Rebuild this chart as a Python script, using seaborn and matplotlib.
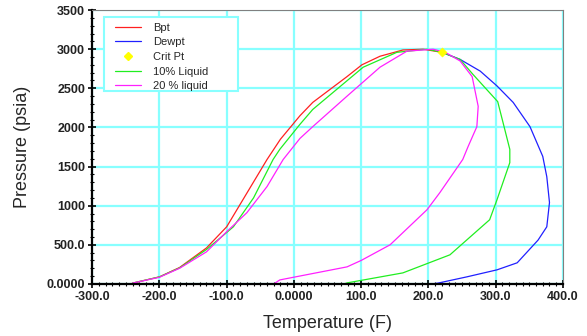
import pandas as pd
import matplotlib.pyplot as plt
import seaborn as sns
from matplotlib.ticker import MultipleLocator, FixedLocator, FixedFormatter
from matplotlib.lines import Line2D
from matplotlib.patches import Rectangle

# phase envelope data (Temperature F, Pressure psia)
bpt_t = [-240, -200, -170, -130, -100, -70, -40, -20, 9, 28, 79, 101, 128, 162, 192, 220]
bpt_p = [10, 90, 210, 460, 730, 1160, 1590, 1850, 2150, 2320, 2650, 2800, 2910, 2990, 3000, 2960]

dew_t = [220, 247, 277, 302, 326, 351, 370, 376, 380, 376, 363, 332, 302, 257, 214, 205]
dew_p = [2960, 2870, 2720, 2530, 2320, 2010, 1630, 1370, 1040, 730, 560, 270, 180, 90, 10, 0]

liq10_t = [-240, -200, -170, -130, -90, -60, -31, -21, 9, 28, 103, 153, 198, 220, 247, 266,
           303, 311, 321, 321, 302, 291, 232, 162, 79, 75]
liq10_p = [10, 90, 205, 440, 730, 1100, 1590, 1720, 2040, 2230, 2770, 2960, 3000, 2960, 2870, 2680,
           2330, 2060, 1720, 1550, 1077, 820, 372, 141, 13, 0]

liq20_t = [-240, -200, -170, -130, -100, -70, -40, -16, 9, 28, 79, 128, 168, 207, 225, 247, 265,
           274, 272, 259, 251, 217, 198, 143, 100, 79, -21, -30]
liq20_p = [10, 85, 200, 410, 667, 910, 1244, 1590, 1860, 2010, 2400, 2770, 2975, 3000, 2960, 2850, 2650,
           2270, 2010, 1756, 1590, 1167, 949, 500, 300, 218, 51, 0]

crit_t = [220]
crit_p = [2960]

x_ticks = [-300, -200, -100, 0, 100, 200, 300, 400]
x_labels = ['-300.0', '-200.0', '-100.0', '0.0000', '100.0', '200.0', '300.0', '400.0']
y_ticks = [0, 500, 1000, 1500, 2000, 2500, 3000, 3500]
y_labels = ['0.0000', '500.0', '1000', '1500', '2000', '2500', '3000', '3500']

frames = []
for name, t, p in [('Bpt', bpt_t, bpt_p), ('Dewpt', dew_t, dew_p),
                   ('10% Liquid', liq10_t, liq10_p), ('20 % liquid', liq20_t, liq20_p)]:
    d = pd.DataFrame({'T': t, 'P': p})
    d['curve'] = name
    frames.append(d)
df = pd.concat(frames, ignore_index=True)

colors = {'Bpt': '#ff2020', 'Dewpt': '#2020ff', '10% Liquid': '#20ee20', '20 % liquid': '#ff20ff'}

sns.set_style('white')
plt.rcParams['font.family'] = ['Liberation Sans', 'DejaVu Sans']

fig = plt.figure(figsize=(5.87, 3.36), dpi=100)
ax = fig.add_axes([0.157, 0.155, 0.802, 0.815])

grid_c = '#88ffff'
for v in x_ticks:
    ax.axvline(v, color=grid_c, lw=1.6, zorder=0)
for v in y_ticks:
    ax.axhline(v, color=grid_c, lw=1.6, zorder=0)

for name in ['Bpt', 'Dewpt', '10% Liquid', '20 % liquid']:
    sns.lineplot(data=df[df['curve'] == name], x='T', y='P', sort=False,
                 color=colors[name], lw=0.9, ax=ax, legend=False, estimator=None)
sns.scatterplot(x=crit_t, y=crit_p, marker='D', color='#ffff00', s=22, edgecolor='#ffff00',
                ax=ax, zorder=5, legend=False)

ax.set_xlim(-300, 400)
ax.set_ylim(0, 3500)
ax.xaxis.set_major_locator(FixedLocator(x_ticks))
ax.xaxis.set_major_formatter(FixedFormatter(x_labels))
ax.yaxis.set_major_locator(FixedLocator(y_ticks))
ax.yaxis.set_major_formatter(FixedFormatter(y_labels))
ax.xaxis.set_minor_locator(MultipleLocator(10))
ax.yaxis.set_minor_locator(MultipleLocator(100))
ax.tick_params(which='major', direction='inout', length=6, width=1.2, color='black',
               labelsize=9, pad=2, bottom=True, left=True)
ax.tick_params(which='minor', direction='inout', length=3, width=0.8, color='black',
               bottom=True, left=True)
for lab in ax.get_xticklabels() + ax.get_yticklabels():
    lab.set_fontweight('bold')
    lab.set_color('#222222')

ax.spines['left'].set_color('black')
ax.spines['left'].set_linewidth(1.6)
ax.spines['bottom'].set_color('black')
ax.spines['bottom'].set_linewidth(1.6)
ax.spines['top'].set_color('#808080')
ax.spines['right'].set_color('#808080')

ax.set_xlabel('Temperature (F)', fontsize=13, labelpad=9)
ax.set_ylabel('Pressure (psia)', fontsize=13, labelpad=11)

# legend box drawn separately so the entries can sit inside it like the original
box = Rectangle((0.0255, 0.703), 0.2845, 0.271, transform=ax.transAxes,
                facecolor='white', edgecolor=grid_c, lw=1.5, zorder=6)
ax.add_patch(box)

handles = [Line2D([], [], color=colors['Bpt'], lw=0.9),
           Line2D([], [], color=colors['Dewpt'], lw=0.9),
           Line2D([], [], color='#ffff00', marker='D', ms=4, lw=0),
           Line2D([], [], color=colors['10% Liquid'], lw=0.9),
           Line2D([], [], color=colors['20 % liquid'], lw=0.9)]
leg = ax.legend(handles, ['Bpt', 'Dewpt', 'Crit Pt', '10% Liquid', '20 % liquid'],
                loc='upper left', bbox_to_anchor=(0.0488, 0.954), frameon=False,
                borderaxespad=0, borderpad=0, fontsize=8,
                labelspacing=0.42, handlelength=2.35, handletextpad=1.1)
leg.set_zorder(7)

fig.savefig('out.png', dpi=100)
